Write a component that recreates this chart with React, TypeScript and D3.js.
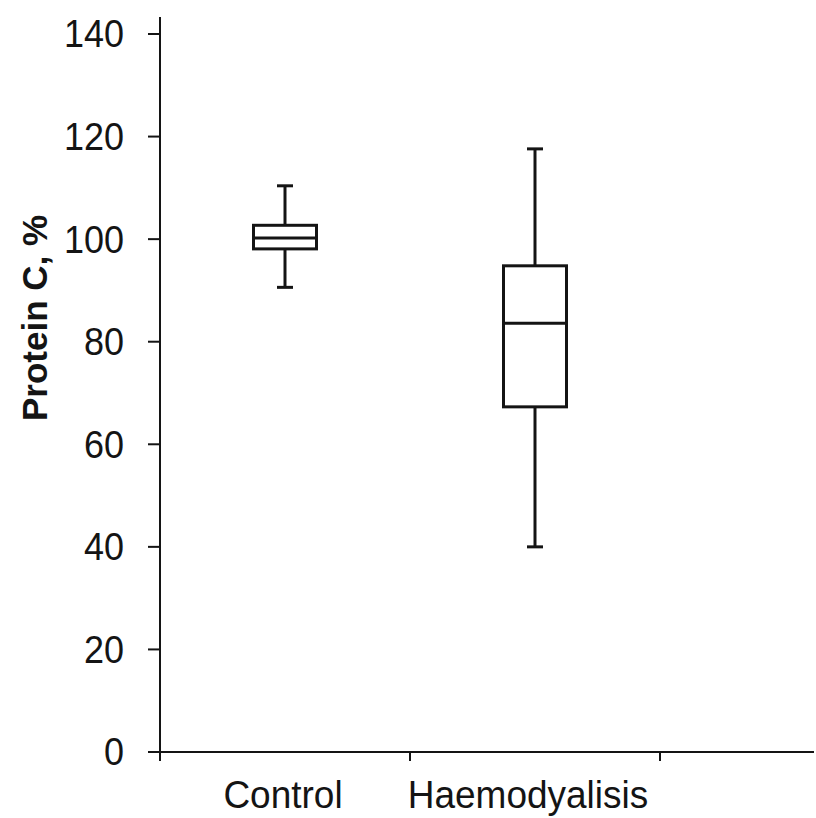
import React from "react";
import * as d3 from "d3";

const categories = ["Control", "Haemodyalisis"];
const whiskerLow = [90.6, 40];
const q1 = [98.1, 67.3];
const medians = [100.2, 83.6];
const q3 = [102.7, 94.8];
const whiskerHigh = [110.4, 117.6];
const yTicks = [0, 20, 40, 60, 80, 100, 120, 140];

const W = 816;
const H = 818;
const left = 160;
const ink = "#141414";

export default function App() {
  const y = d3.scaleLinear().domain([0, 140]).range([752, 34]);
  const x = d3.scaleBand<string>().domain(categories).range([left, 660]).padding(0);
  const bw = 63;
  const cap = 16;
  const font = "Arial, 'Liberation Sans', Helvetica, sans-serif";
  const boundaries = [left, ...categories.map((c) => (x(c) as number) + x.bandwidth())];

  return (
    <svg
      width={W}
      height={H}
      style={{ position: "absolute", left: 0, top: 0, background: "#fff" }}
      fontFamily={font}
    >
      <rect width={W} height={H} fill="#fff" />
      {/* y axis */}
      <line x1={left} x2={left} y1={17} y2={760} stroke={ink} strokeWidth={2} />
      {yTicks.map((t) => (
        <g key={t}>
          <line x1={148} x2={left} y1={y(t)} y2={y(t)} stroke={ink} strokeWidth={2} />
          <text
            transform={`translate(124, ${y(t)}) scale(1, 1.08)`}
            textAnchor="end"
            dominantBaseline="central"
            fontSize={36}
            fill={ink}
          >
            {t}
          </text>
        </g>
      ))}
      {/* x axis */}
      <line x1={left} x2={814} y1={y(0)} y2={y(0)} stroke={ink} strokeWidth={2} />
      {boundaries.map((b, i) => (
        <line key={i} x1={b} x2={b} y1={y(0)} y2={y(0) + 9} stroke={ink} strokeWidth={2} />
      ))}
      {categories.map((c, i) => (
        <text
          key={c}
          transform={`translate(${(x(c) as number) + x.bandwidth() / 2 - (i === 0 ? 2 : 7)}, 808) scale(1, 1.06)`}
          textAnchor="middle"
          fontSize={37}
          fill={ink}
        >
          {c}
        </text>
      ))}
      {/* y label */}
      <text
        transform={`translate(47, 318) rotate(-90)`}
        textAnchor="middle"
        fontSize={35}
        fontWeight="bold"
        fill={ink}
      >
        Protein C, %
      </text>
      {/* boxes */}
      {categories.map((c, i) => {
        const cx = (x(c) as number) + x.bandwidth() / 2;
        return (
          <g key={c} stroke={ink} strokeWidth={3} fill="none">
            <line x1={cx} x2={cx} y1={y(whiskerHigh[i])} y2={y(q3[i])} />
            <line x1={cx} x2={cx} y1={y(q1[i])} y2={y(whiskerLow[i])} />
            <line x1={cx - cap / 2} x2={cx + cap / 2} y1={y(whiskerHigh[i])} y2={y(whiskerHigh[i])} />
            <line x1={cx - cap / 2} x2={cx + cap / 2} y1={y(whiskerLow[i])} y2={y(whiskerLow[i])} />
            <rect x={cx - bw / 2} y={y(q3[i])} width={bw} height={y(q1[i]) - y(q3[i])} />
            <line x1={cx - bw / 2} x2={cx + bw / 2} y1={y(medians[i])} y2={y(medians[i])} />
          </g>
        );
      })}
    </svg>
  );
}
